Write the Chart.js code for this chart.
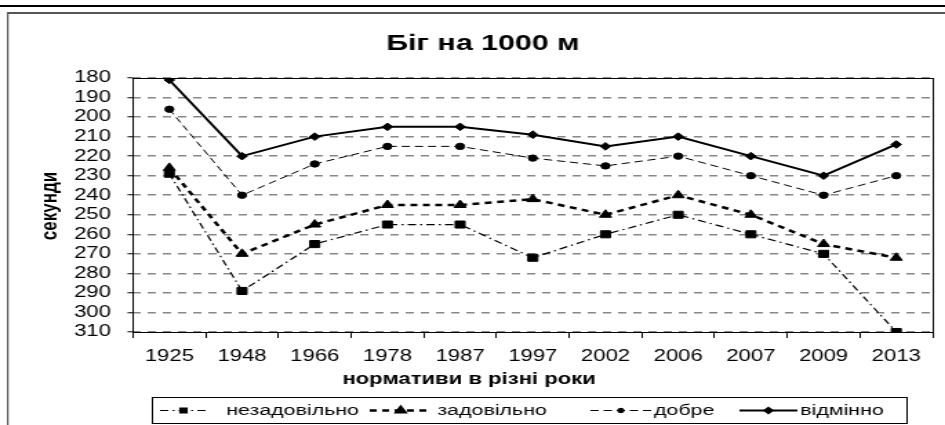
<!DOCTYPE html>
<html>
<head>
<meta charset="utf-8">
<script src="https://cdn.jsdelivr.net/npm/chart.js@4/dist/chart.umd.min.js"></script>
<style>
    html, body { margin: 0; padding: 0; background: #fff; overflow: hidden; }
    /* оригінальна картинка розтягнута по горизонталі */
    #wrap { position: absolute; left: 0; top: 0; width: 685px; height: 425px;
            transform: scaleX(1.3796); transform-origin: 0 0; }
</style>
</head>
<body>
<div id="wrap"><canvas id="chart"></canvas></div>
<script>
// Дані
const roky = ['1925', '1948', '1966', '1978', '1987', '1997', '2002', '2006', '2007', '2009', '2013'];
const nezadovilno = [229, 289, 265, 255, 255, 272, 260, 250, 260, 270, 310];
const zadovilno = [226, 270, 255, 245, 245, 242, 250, 240, 250, 265, 272];
const dobre = [196, 240, 224, 215, 215, 221, 225, 220, 230, 240, 230];
const vidminno = [181, 220, 210, 205, 205, 209, 215, 210, 220, 230, 214];

const FONT = '"Liberation Sans", Arial, sans-serif';

// Позиції зразків легенди (x початку лінії, x кінця, x тексту)
const legendaPos = [
    [116, 150, 164],
    [268, 313, 317],
    [428, 472, 474],
    [536, 578, 580]
];

// Плагін: рамка, заголовки, легенда
const oformlennia = {
    id: 'oformlennia',
    afterDraw(chart) {
        const ctx = chart.ctx;
        const a = chart.chartArea;
        ctx.save();

        // зовнішні лінії
        ctx.fillStyle = '#000';
        ctx.fillRect(0, 5, chart.width, 2);
        ctx.fillStyle = '#555';
        ctx.fillRect(5, 12, chart.width - 5, 2);
        ctx.fillRect(5, 12, 1.2, chart.height - 12);

        // рамка області побудови
        ctx.strokeStyle = '#000';
        ctx.lineWidth = 1;
        ctx.strokeRect(Math.round(a.left) + 0.5, Math.round(a.top) + 0.5,
            Math.round(a.right - a.left), Math.round(a.bottom - a.top));

        // заголовок
        ctx.fillStyle = '#000';
        ctx.textAlign = 'center';
        ctx.textBaseline = 'middle';
        ctx.font = 'bold 22px ' + FONT;
        ctx.fillText('Біг на 1000 м', 350, 44);

        // назви осей
        ctx.font = 'bold 16px ' + FONT;
        ctx.fillText('нормативи в різні роки', 340, 380);
        ctx.save();
        ctx.translate(36, 206);
        ctx.rotate(-Math.PI / 2);
        ctx.font = 'bold 17px ' + FONT;
        ctx.fillText('секунди', 0, 0);
        ctx.restore();

        // легенда
        ctx.strokeStyle = '#000';
        ctx.lineWidth = 1;
        ctx.strokeRect(110.5, 397.5, 547, 26);
        ctx.font = '15.5px ' + FONT;
        ctx.textAlign = 'left';
        const yL = 410.5;
        chart.data.datasets.forEach((ds, i) => {
            const [x1, x2, xt] = legendaPos[i];
            ctx.save();
            ctx.strokeStyle = ds.borderColor;
            ctx.lineWidth = ds.borderWidth;
            ctx.setLineDash(ds.borderDash || []);
            ctx.beginPath();
            ctx.moveTo(x1, yL);
            ctx.lineTo(x2, yL);
            ctx.stroke();
            ctx.setLineDash([]);
            ctx.fillStyle = '#000';
            ctx.strokeStyle = '#000';
            Chart.helpers.drawPoint(ctx, {
                pointStyle: ds.pointStyle,
                radius: ds.pointRadius * 0.7,
                borderWidth: 1,
                rotation: 0
            }, (x1 + x2) / 2, yL);
            ctx.restore();
            ctx.fillStyle = '#000';
            ctx.fillText(ds.label, xt, yL);
        });

        ctx.restore();
    }
};

function seriya(label, data, dash, width, style, radius) {
    return {
        label: label,
        data: data,
        borderColor: '#000',
        backgroundColor: '#000',
        borderWidth: width,
        borderDash: dash,
        pointStyle: style,
        pointRadius: radius,
        pointBackgroundColor: '#000',
        pointBorderColor: '#000',
        pointBorderWidth: 1,
        tension: 0
    };
}

new Chart(document.getElementById('chart'), {
    type: 'line',
    data: {
        labels: roky,
        datasets: [
            seriya('незадовільно', nezadovilno, [6, 3, 1.5, 3], 1.2, 'rect', 5),
            seriya('задовільно', zadovilno, [5, 4], 2.5, 'triangle', 5),
            seriya('добре', dobre, [6, 3.5], 1, 'circle', 3.2),
            seriya('відмінно', vidminno, [], 2, 'rectRot', 3.8)
        ]
    },
    options: {
        responsive: true,
        maintainAspectRatio: false,
        animation: false,
        layout: { padding: { left: 0, right: 9, top: 78, bottom: 53 } },
        plugins: {
            legend: { display: false },
            title: { display: false },
            tooltip: { enabled: false }
        },
        scales: {
            x: {
                offset: true,
                grid: { drawOnChartArea: false, drawTicks: true, tickLength: 6, tickColor: '#000', offset: true },
                border: { display: false },
                ticks: { color: '#000', font: { family: FONT, size: 16 }, padding: 9, maxRotation: 0, autoSkip: false },
                afterFit(scale) { scale.height = 40; }
            },
            y: {
                reverse: true,
                min: 180,
                max: 310,
                grid: { color: '#888', lineWidth: 1.5, tickColor: '#000', tickLength: 4, tickWidth: 1 },
                border: { display: false, dash: [6, 5] },
                ticks: { stepSize: 10, autoSkip: false, color: '#000', font: { family: FONT, size: 16 }, padding: 12 },
                afterFit(scale) { scale.width = 96.4; }
            }
        }
    },
    plugins: [oformlennia]
});
</script>
</body>
</html>
